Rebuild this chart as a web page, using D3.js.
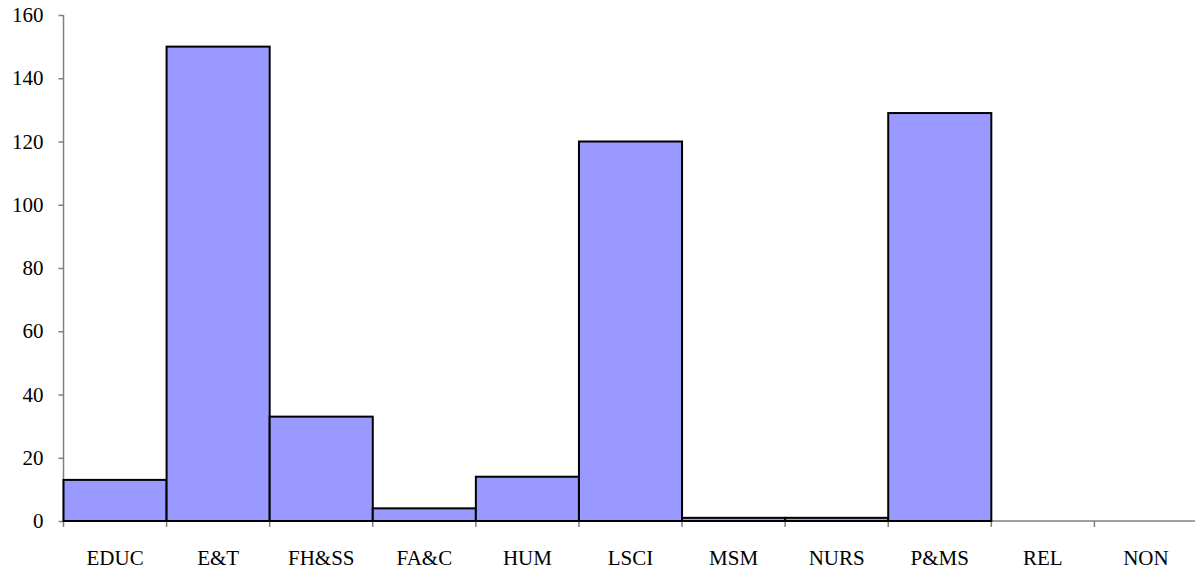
<!DOCTYPE html>
<html><head><meta charset="utf-8">
<script src="https://cdn.jsdelivr.net/npm/d3@7"></script>
<style>body{margin:0;background:#fff;}svg{display:block;}</style>
</head><body>
<svg id="chart" width="1195" height="572"></svg>
<script>
const categories = ["EDUC","E&T","FH&SS","FA&C","HUM","LSCI","MSM","NURS","P&MS","REL","NON"];
const values = [13,150,33,4,14,120,1,1,129,0,0];
const yTicks = [0,20,40,60,80,100,120,140,160];

(function(){
const svg = d3.select("#chart");
const mLeft = 63.5, mRight = 1197.5, mTop = 15, mBottom = 521;
const x = d3.scaleBand().domain(categories).range([mLeft, mRight]).padding(0);
const y = d3.scaleLinear().domain([0,160]).range([mBottom, mTop]);
const font = "'Liberation Serif','Times New Roman',serif";

// y axis
const ya = svg.append("g").attr("transform",`translate(${mLeft},0)`)
  .call(d3.axisLeft(y).tickValues(yTicks).tickSize(5).tickPadding(15).tickFormat(d3.format("d")));
ya.selectAll("path,line").attr("stroke","#808080").attr("stroke-width",1.5);
ya.select(".domain").attr("d",`M0,${mTop}V${mBottom}`);
ya.selectAll("text").attr("font-family",font).attr("font-size",21).attr("fill","#000");

// x axis
const xa = svg.append("g").attr("transform",`translate(0,${mBottom})`)
  .call(d3.axisBottom(x).tickSize(0).tickPadding(29));
xa.select(".domain").attr("stroke","#808080").attr("stroke-width",1.5).attr("d",`M${mLeft},0H${mRight}`);
xa.selectAll("text").attr("font-family",font).attr("font-size",21).attr("fill","#000");
const bounds = categories.map(c=>x(c)).concat([mRight]);
xa.selectAll("line.bt").data(bounds).join("line").attr("class","bt")
  .attr("x1",d=>d).attr("x2",d=>d).attr("y1",0).attr("y2",6)
  .attr("stroke","#808080").attr("stroke-width",1.5);

// bars
svg.append("g").selectAll("rect").data(categories.map((c,i)=>({c,v:values[i]})).filter(d=>d.v>0))
  .join("rect")
  .attr("x", d=>x(d.c)).attr("y", d=>y(d.v))
  .attr("width", x.bandwidth()).attr("height", d=>y(0)-y(d.v))
  .attr("fill","#9999FF").attr("stroke","#000").attr("stroke-width",2);
})();
</script>
</body></html>
